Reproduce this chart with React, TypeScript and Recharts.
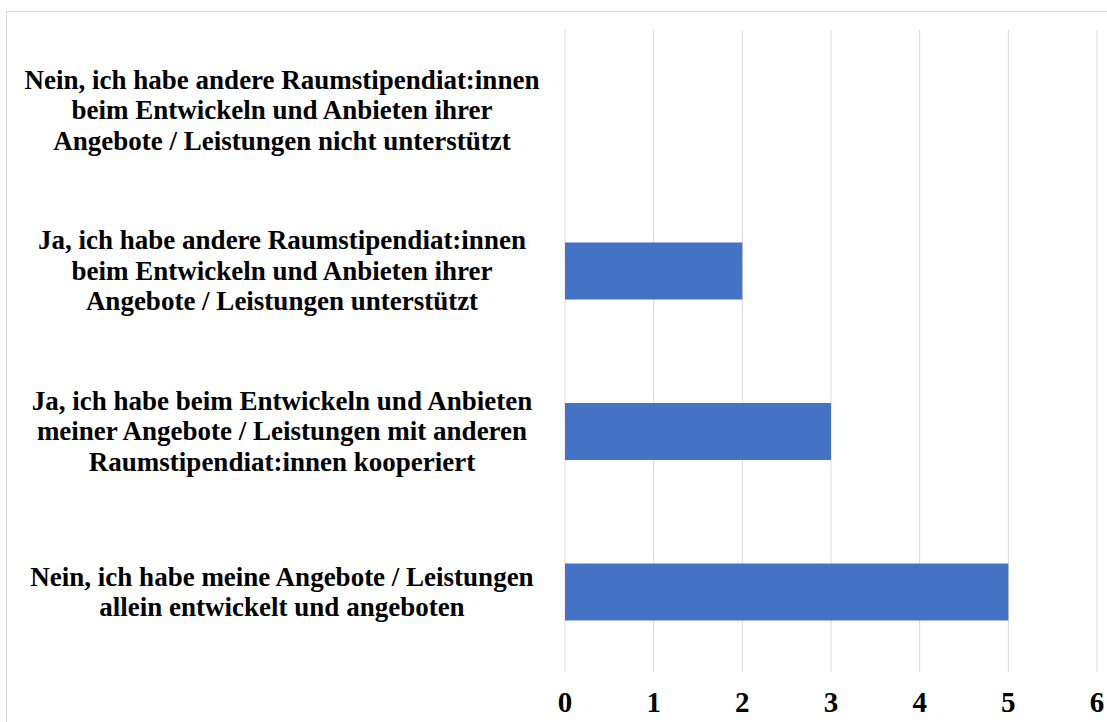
import { Bar, BarChart, CartesianGrid, XAxis, YAxis } from "recharts";

const categories = [
  ["Nein, ich habe andere Raumstipendiat:innen", "beim Entwickeln und Anbieten ihrer", "Angebote / Leistungen nicht unterstützt"],
  ["Ja, ich habe andere Raumstipendiat:innen", "beim Entwickeln und Anbieten ihrer", "Angebote / Leistungen unterstützt"],
  ["Ja, ich habe beim Entwickeln und Anbieten", "meiner Angebote / Leistungen mit anderen", "Raumstipendiat:innen kooperiert"],
  ["Nein, ich habe meine Angebote / Leistungen", "allein entwickelt und angeboten"],
];
const values = [0, 2, 3, 5];
const xTicks = [0, 1, 2, 3, 4, 5, 6];

const FONT = "Liberation Serif, Tinos, Times New Roman, DejaVu Serif, serif";

const data = categories.map((lines, i) => ({ key: `c${i}`, lines, value: values[i] }));

function CategoryTick(props: any) {
  const { y, payload } = props;
  const lines: string[] = data[payload.index]?.lines ?? [];
  const lh = 30.5;
  const start = y - ((lines.length - 1) * lh) / 2;
  return (
    <text
      x={282}
      y={start}
      textAnchor="middle"
      dominantBaseline="central"
      style={{ fontFamily: FONT, fontWeight: 700, fontSize: 27 }}
      fill="#000"
    >
      {lines.map((l, i) => (
        <tspan key={i} x={282} y={start + i * lh}>
          {l}
        </tspan>
      ))}
    </text>
  );
}

export default function App() {
  return (
    <div style={{ position: "absolute", left: 0, top: 0, width: 1107, height: 722, background: "#fff", overflow: "hidden", fontFamily: FONT }}>
      <div
        style={{
          position: "absolute",
          left: 6,
          top: 11,
          width: 1200,
          height: 800,
          borderLeft: "1px solid #d9d9d9",
          borderTop: "1px solid #d9d9d9",
        }}
      />
      <BarChart
        width={1107}
        height={722}
        data={data}
        layout="vertical"
        margin={{ top: 30, right: 10, left: 0, bottom: 0 }}
        style={{ position: "absolute", left: 0, top: 0, fontFamily: FONT }}
      >
        <CartesianGrid horizontal={false} stroke="#d9d9d9" />
        <XAxis
          type="number"
          domain={[0, 6]}
          ticks={xTicks}
          axisLine={false}
          tickLine={false}
          height={50}
          tickMargin={13}
          tick={{ style: { fontFamily: FONT, fontWeight: 700, fontSize: 29 }, fill: "#000" }}
        />
        <YAxis
          type="category"
          dataKey="key"
          width={565}
          axisLine={false}
          tickLine={false}
          tick={<CategoryTick />}
          interval={0}
        />
        <Bar dataKey="value" fill="#4472c4" barSize={57} isAnimationActive={false} />
      </BarChart>
    </div>
  );
}
